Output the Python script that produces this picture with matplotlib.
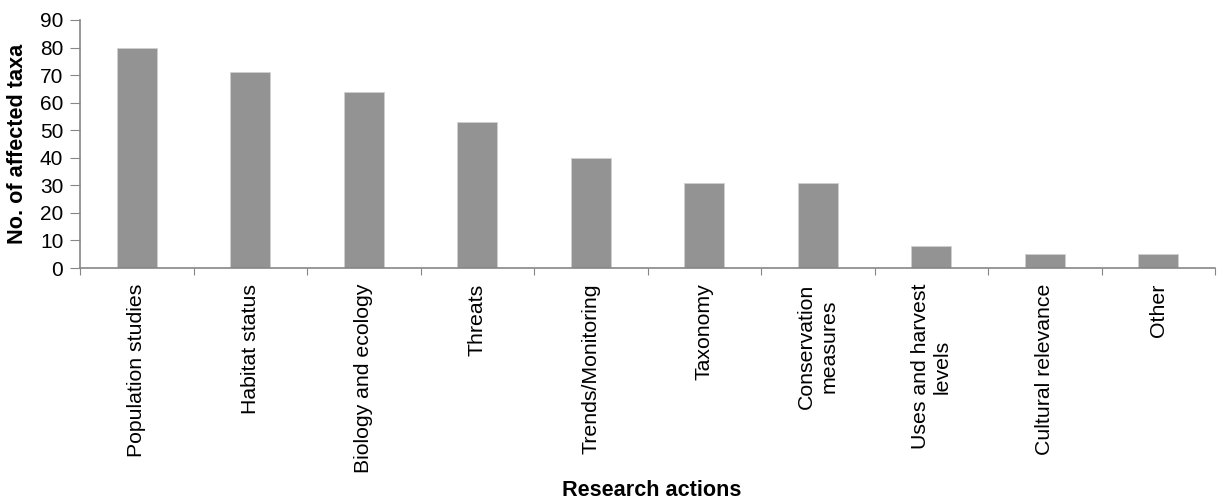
import matplotlib.pyplot as plt
import numpy as np

categories = ["Population studies", "Habitat status", "Biology and ecology",
              "Threats", "Trends/Monitoring", "Taxonomy",
              "Conservation\nmeasures", "Uses and harvest\nlevels",
              "Cultural relevance", "Other"]
values = [80, 71, 64, 53, 40, 31, 31, 8, 5, 5]
yticks = [0, 10, 20, 30, 40, 50, 60, 70, 80, 90]

plt.rcParams['font.family'] = ['Liberation Sans', 'DejaVu Sans']

fig = plt.figure(figsize=(12.22, 4.99), dpi=100)
ax = fig.add_axes([0.0655, 0.4629, 0.9288, 0.4971])

x = np.arange(len(categories))
ax.bar(x, values, width=0.35, color='#939393', edgecolor='#d0d0d0', linewidth=0.6)

ax.set_xlim(-0.5, len(categories) - 0.5)
ax.set_ylim(0, 90)
ax.set_yticks(yticks)
ax.tick_params(axis='y', labelsize=15, length=7, color='#868686', pad=5)

# tick marks sit between the categories, labels drawn as text
ax.set_xticks(np.arange(len(categories) + 1) - 0.5)
ax.set_xticklabels([])
ax.tick_params(axis='x', length=5, color='#868686')
for xi, lab in zip(x, categories):
    ax.text(xi, -5.7, lab, rotation=90, ha='center', va='top', fontsize=15.3,
            multialignment='center', linespacing=1.2)

for s in ['top', 'right']:
    ax.spines[s].set_visible(False)
for s in ['left', 'bottom']:
    ax.spines[s].set_color('#868686')
    ax.spines[s].set_linewidth(1.2)

ax.set_ylabel("No. of affected taxa", fontsize=15.6, fontweight='bold')
ax.yaxis.set_label_coords(-0.046, 0.5)
fig.text(0.533, 0.006, "Research actions", ha='center', va='baseline',
         fontsize=15.6, fontweight='bold')

fig.savefig('out.png', dpi=100)
